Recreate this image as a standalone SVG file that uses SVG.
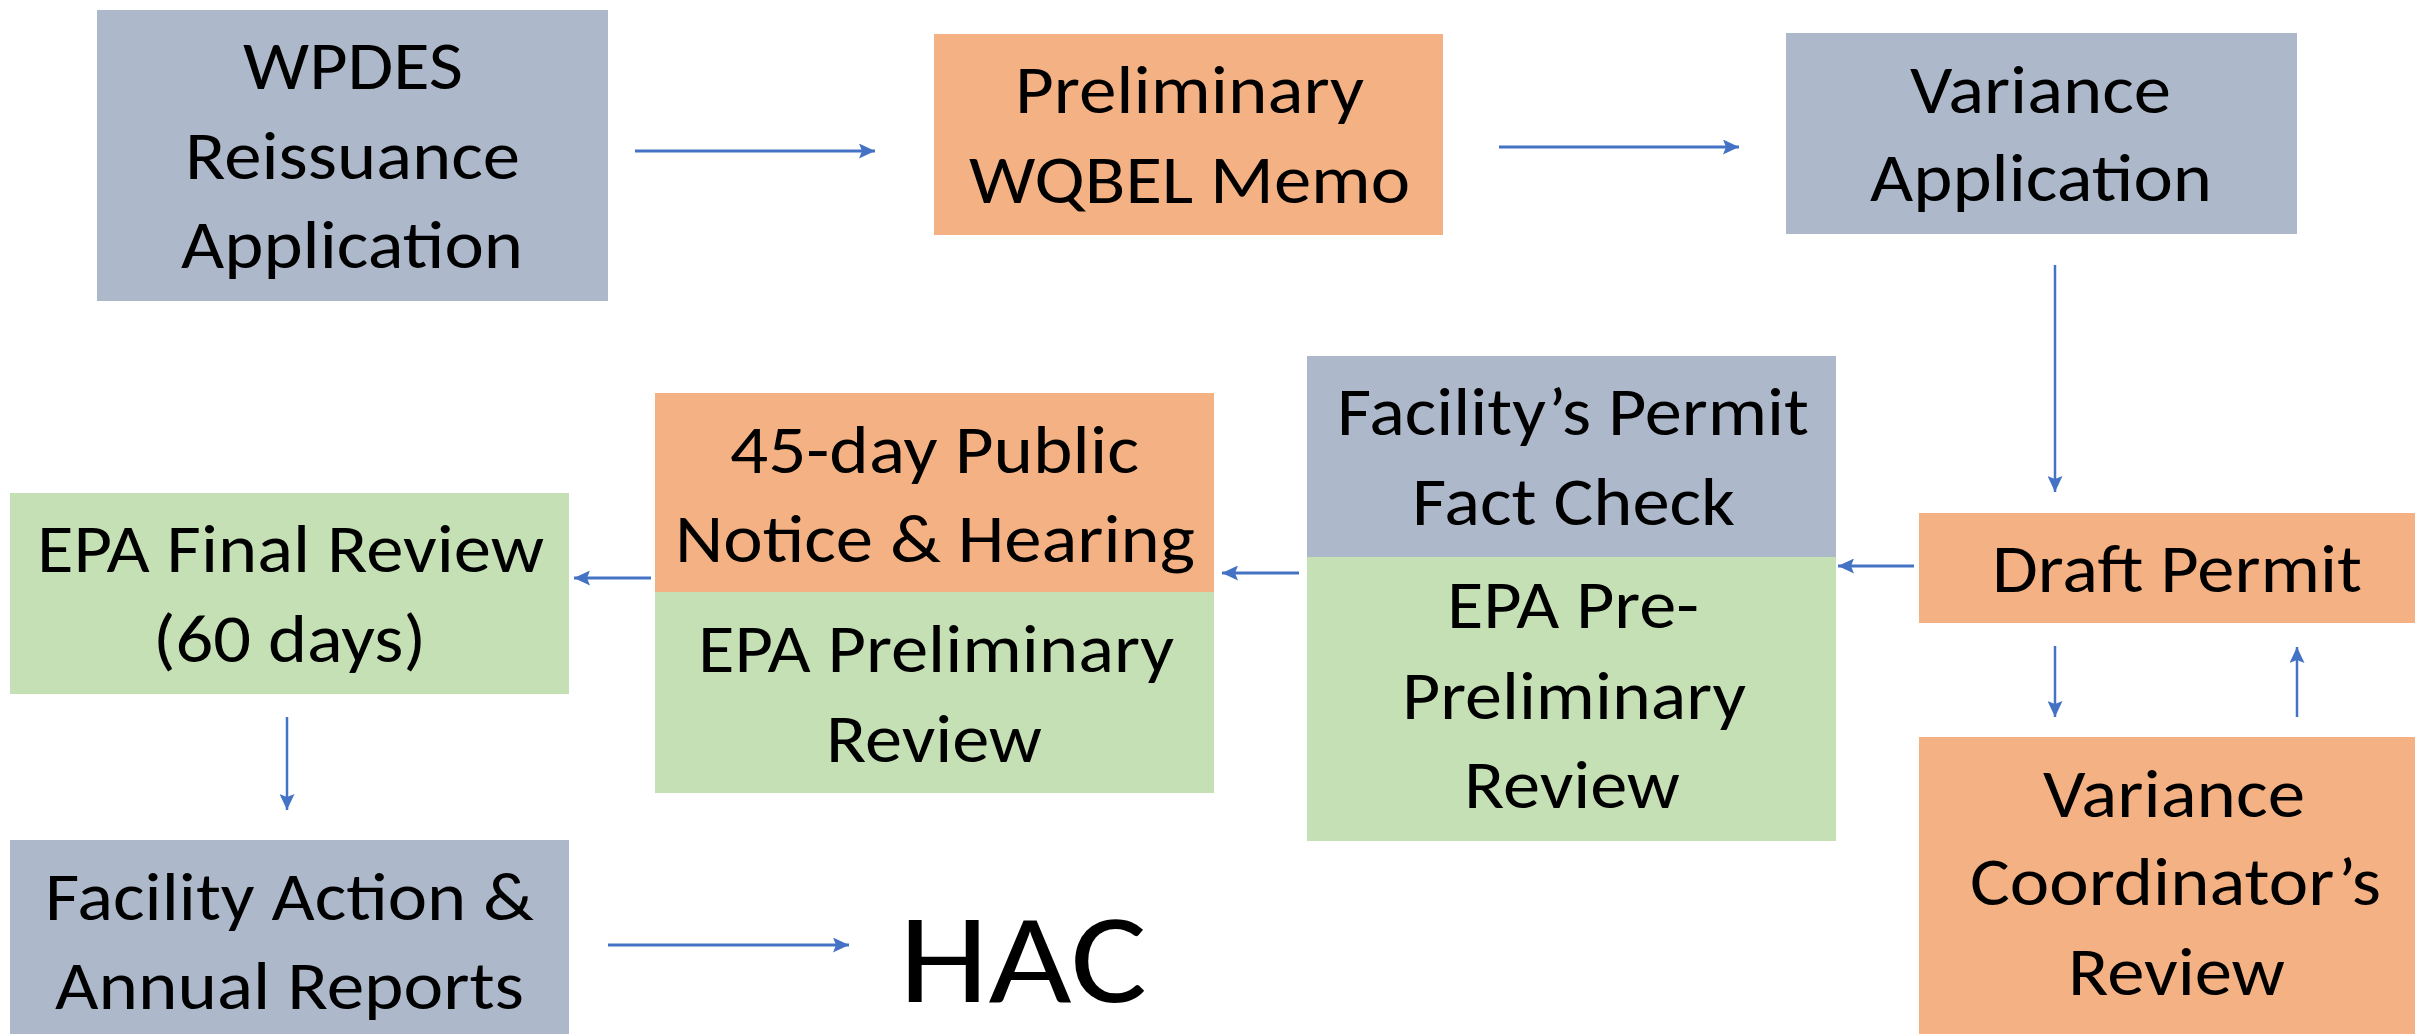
<svg xmlns="http://www.w3.org/2000/svg" width="2415" height="1034" viewBox="0 0 2415 1034">
  <style>
    .gray { fill: #ADB9CA; }
    .orange { fill: #F4B183; }
    .green { fill: #C5E0B4; }
    text { font-family: "Carlito", "Lato", "Open Sans", sans-serif; font-size: 67px; fill: #000000; }
    .big { font-size: 128px; }
    .conn { stroke: #4472C4; stroke-width: 3; fill: none; marker-end: url(#head); }
    .thin { stroke-width: 2.5; }
  </style>
  <defs>
    <marker id="head" markerUnits="userSpaceOnUse" markerWidth="16" markerHeight="15" refX="16" refY="7.5" orient="auto">
      <path d="M0,0 L16,7.5 L0,15 L3,7.5 z" fill="#4472C4"/>
    </marker>
  </defs>
  <rect width="2415" height="1034" fill="#FFFFFF"/>

  <g id="wpdes-application">
    <rect class="gray" x="97" y="10" width="511" height="291"/>
    <text x="243" y="89" textLength="220" lengthAdjust="spacingAndGlyphs">WPDES</text>
    <text x="185" y="179" textLength="335" lengthAdjust="spacingAndGlyphs">Reissuance</text>
    <text x="181" y="268" textLength="342" lengthAdjust="spacingAndGlyphs">Application</text>
  </g>

  <g id="preliminary-wqbel-memo">
    <rect class="orange" x="934" y="34" width="509" height="201"/>
    <text x="1015" y="113" textLength="349" lengthAdjust="spacingAndGlyphs">Preliminary</text>
    <text x="969" y="203" textLength="441" lengthAdjust="spacingAndGlyphs">WQBEL Memo</text>
  </g>

  <g id="variance-application">
    <rect class="gray" x="1786" y="33" width="511" height="201"/>
    <text x="1910" y="113" textLength="261" lengthAdjust="spacingAndGlyphs">Variance</text>
    <text x="1870" y="201" textLength="342" lengthAdjust="spacingAndGlyphs">Application</text>
  </g>

  <g id="draft-permit">
    <rect class="orange" x="1919" y="513" width="496" height="110"/>
    <text x="1992" y="592" textLength="370" lengthAdjust="spacingAndGlyphs">Draft Permit</text>
  </g>

  <g id="variance-coordinator-review">
    <rect class="orange" x="1919" y="737" width="496" height="297"/>
    <text x="2043" y="817" textLength="262" lengthAdjust="spacingAndGlyphs">Variance</text>
    <text x="1970" y="905" textLength="411" lengthAdjust="spacingAndGlyphs">Coordinator’s</text>
    <text x="2068" y="995" textLength="217" lengthAdjust="spacingAndGlyphs">Review</text>
  </g>

  <g id="fact-check-and-pre-preliminary-review">
    <rect class="gray" x="1307" y="356" width="529" height="201"/>
    <rect class="green" x="1307" y="557" width="529" height="284"/>
    <text x="1337" y="435" textLength="472" lengthAdjust="spacingAndGlyphs">Facility’s Permit</text>
    <text x="1412" y="525" textLength="323" lengthAdjust="spacingAndGlyphs">Fact Check</text>
    <text x="1447" y="628" textLength="252" lengthAdjust="spacingAndGlyphs">EPA Pre-</text>
    <text x="1402" y="719" textLength="344" lengthAdjust="spacingAndGlyphs">Preliminary</text>
    <text x="1464" y="808" textLength="216" lengthAdjust="spacingAndGlyphs">Review</text>
  </g>

  <g id="public-notice-and-preliminary-review">
    <rect class="orange" x="655" y="393" width="559" height="199"/>
    <rect class="green" x="655" y="592" width="559" height="201"/>
    <text x="730" y="473" textLength="409" lengthAdjust="spacingAndGlyphs">45-day Public</text>
    <text x="675" y="562" textLength="520" lengthAdjust="spacingAndGlyphs">Notice &amp; Hearing</text>
    <text x="698" y="672" textLength="476" lengthAdjust="spacingAndGlyphs">EPA Preliminary</text>
    <text x="826" y="762" textLength="216" lengthAdjust="spacingAndGlyphs">Review</text>
  </g>

  <g id="epa-final-review">
    <rect class="green" x="10" y="493" width="559" height="201"/>
    <text x="37" y="572" textLength="507" lengthAdjust="spacingAndGlyphs">EPA Final Review</text>
    <text x="153" y="662" textLength="273" lengthAdjust="spacingAndGlyphs">(60 days)</text>
  </g>

  <g id="facility-action-reports">
    <rect class="gray" x="10" y="840" width="559" height="194"/>
    <text x="45" y="920" textLength="489" lengthAdjust="spacingAndGlyphs">Facility Action &amp;</text>
    <text x="55" y="1009" textLength="469" lengthAdjust="spacingAndGlyphs">Annual Reports</text>
  </g>

  <g id="hac">
    <text class="big" x="899" y="1002" textLength="248" lengthAdjust="spacingAndGlyphs">HAC</text>
  </g>

  <g id="connectors">
    <line class="conn" x1="635" y1="151" x2="875" y2="151"/>
    <line class="conn" x1="1499" y1="147" x2="1739" y2="147"/>
    <line class="conn thin" x1="2055" y1="265" x2="2055" y2="492"/>
    <line class="conn" x1="1914" y1="566" x2="1838" y2="566"/>
    <line class="conn" x1="1299" y1="573" x2="1222" y2="573"/>
    <line class="conn" x1="651" y1="578" x2="574" y2="578"/>
    <line class="conn thin" x1="287" y1="717" x2="287" y2="810"/>
    <line class="conn" x1="608" y1="945" x2="849" y2="945"/>
    <line class="conn thin" x1="2055" y1="646" x2="2055" y2="717"/>
    <line class="conn thin" x1="2297" y1="717" x2="2297" y2="647"/>
  </g>
</svg>
